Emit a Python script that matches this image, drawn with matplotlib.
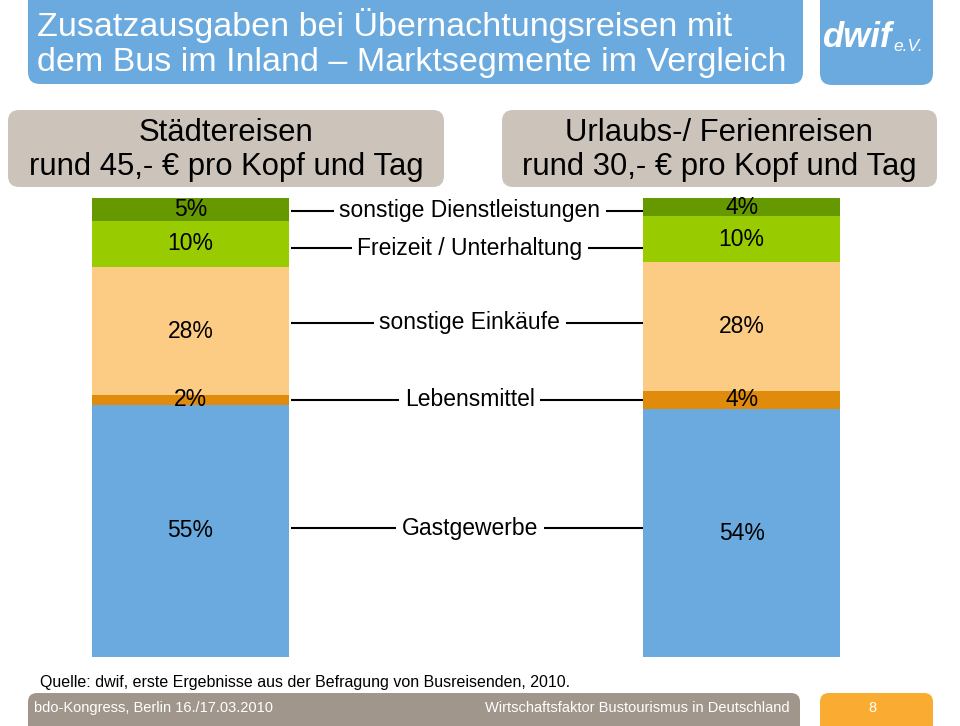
import matplotlib
matplotlib.use("Agg")
import matplotlib.pyplot as plt
from matplotlib.patches import FancyBboxPatch
import numpy as np

# Data
segments = ["Gastgewerbe", "Lebensmittel", "sonstige Einkäufe",
            "Freizeit / Unterhaltung", "sonstige Dienstleistungen"]
staedte = [55, 2, 28, 10, 5]
urlaub = [54, 4, 28, 10, 4]
colors = ["#6AAADE", "#E08B0B", "#FDCC84", "#99CC00", "#669900"]
headers = ["Städtereisen\nrund 45,- € pro Kopf und Tag",
           "Urlaubs-/ Ferienreisen\nrund 30,- € pro Kopf und Tag"]
title = "Zusatzausgaben bei Übernachtungsreisen mit\ndem Bus im Inland – Marktsegmente im Vergleich"
source = "Quelle: dwif, erste Ergebnisse aus der Befragung von Busreisenden, 2010."
footer_left = "bdo-Kongress, Berlin 16./17.03.2010"
footer_right = "Wirtschaftsfaktor Bustourismus in Deutschland"
page = "8"

plt.rcParams['font.family'] = ['Liberation Sans', 'DejaVu Sans']

W, H = 960, 726
fig = plt.figure(figsize=(9.6, 7.26), dpi=100)

# full-figure axes in pixel coordinates for the slide decoration
deco = fig.add_axes([0, 0, 1, 1])
deco.set_xlim(0, W)
deco.set_ylim(H, 0)
deco.axis("off")

def rbox(x0, y0, x1, y1, color, r=10):
    deco.add_patch(FancyBboxPatch((x0 + r, y0 + r), x1 - x0 - 2 * r, y1 - y0 - 2 * r,
                                  boxstyle=f"round,pad={r}", fc=color, ec="none"))

# title + logo boxes (top edge runs off the slide)
rbox(28, -30, 803, 84, "#6BAADE", r=12)
rbox(820, -30, 933, 85, "#6BAADE", r=12)
deco.text(37, 43, title, color="white", fontsize=24.5,
          va="center", ha="left", linespacing=1.16)
deco.text(822, 47, "dwif", color="white", fontsize=25, fontweight="bold",
          fontstyle="italic", va="baseline", ha="left")
deco.text(893, 51, "e.V.", color="white", fontsize=12.5, fontstyle="italic",
          va="baseline", ha="left")

# header boxes
rbox(8, 110, 444, 187, "#CCC4BB", r=11)
rbox(502, 110, 937, 187, "#CCC4BB", r=11)
deco.text(226, 150, headers[0], fontsize=22.3, ha="center", va="center",
          linespacing=1.2)
deco.text(719, 150, headers[1], fontsize=22.3, ha="center", va="center",
          linespacing=1.2)

# footer
deco.text(40, 683, source, fontsize=11.5, ha="left", va="center")
rbox(28, 693, 800, 735, "#A1968B", r=9)
rbox(820, 693, 933, 735, "#F9AB32", r=9)
deco.text(34, 708, footer_left, color="white", fontsize=10.5, ha="left", va="center")
deco.text(790, 708, footer_right, color="white", fontsize=10.5, ha="right", va="center")
deco.text(872, 708, page, color="white", fontsize=10.5, ha="center", va="center")

# bar axes: bars 197 px wide, centres 552 px apart, from y 198 to 657
bw = 197 / 552
ax = fig.add_axes([92 / W, (H - 657) / H, (840 - 92) / W, (657 - 198) / H])
ax.set_xlim(-bw / 2, 1 + bw / 2)
ax.set_ylim(0, 100)
ax.axis("off")
ax.patch.set_alpha(0)

bottoms = np.zeros(2)
for i, seg in enumerate(segments):
    vals = np.array([staedte[i], urlaub[i]])
    ax.bar([0, 1], vals, width=bw, bottom=bottoms, color=colors[i], linewidth=0)
    for x, v, b in zip([0, 1], vals, bottoms):
        ax.text(x, b + v / 2, f"{v}%", ha="center", va="center", fontsize=16.5)
    bottoms += vals

# connector lines between the bars
line_y = [28.1, 56.0, 72.8, 89.1, 97.2]
for seg, y in zip(segments, line_y):
    ax.plot([bw / 2 + 0.005, 1 - bw / 2], [y, y], color="black", lw=1.5,
            solid_capstyle="butt", clip_on=False)
    ax.text(0.507, y, seg, ha="center", va="center", fontsize=16.5,
            bbox=dict(fc="white", ec="none", pad=4))

fig.savefig("out.png", dpi=100)
